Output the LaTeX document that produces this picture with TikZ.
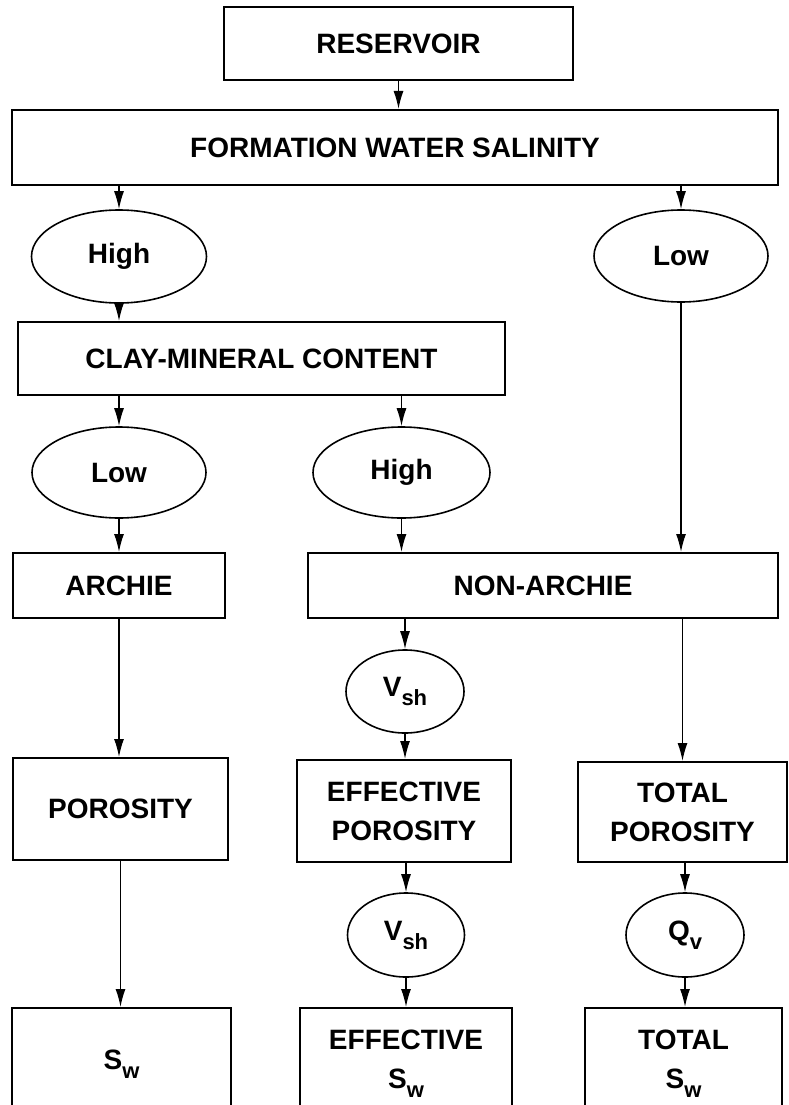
\documentclass[tikz,border=0pt]{standalone}
\usepackage{fontspec}
\setmainfont{Liberation Sans}
\usetikzlibrary{arrows.meta,shapes.geometric}
\newcommand{\diaglbl}{\bfseries\fontsize{28}{39}\selectfont}
\newcommand{\dsub}[1]{\raisebox{-0.32em}{\fontsize{22}{22}\selectfont #1}}
\begin{document}
\begin{tikzpicture}[x=1pt,y=-1pt,
  box/.style={draw, line width=2pt, rectangle, inner sep=0pt, align=center, font=\diaglbl},
  oval/.style={draw, line width=1.6pt, ellipse, inner sep=0pt, font=\diaglbl},
  conn/.style={line width=1.4pt, -{Latex[length=18pt,width=10pt]}}]
\useasboundingbox (0,0) rectangle (789,1105);
\clip (0,0) rectangle (789,1105);
\fill[white] (0,0) rectangle (789,1105);

\node[box, minimum width=349pt, minimum height=73pt] (res) at (398.5,43.5) {RESERVOIR};
\node[box, minimum width=766pt, minimum height=75pt] (fws) at (395,147.5) {FORMATION WATER SALINITY};
\node[oval, minimum width=175pt, minimum height=93pt] (high1) at (119,256.5) {High};
\node[oval, minimum width=174pt, minimum height=92pt] (low1) at (681,256) {Low};
\node[box, minimum width=487pt, minimum height=73pt] (clay) at (261.5,358.5) {CLAY-MINERAL CONTENT};
\node[oval, minimum width=174pt, minimum height=91pt] (low2) at (119,472.5) {Low};
\node[oval, minimum width=177pt, minimum height=91pt] (high2) at (401.5,472.5) {High};
\node[box, minimum width=212pt, minimum height=65pt] (archie) at (119,585.5) {ARCHIE};
\node[box, minimum width=470pt, minimum height=65pt] (nonarchie) at (543,585.5) {NON-ARCHIE};
\node[oval, minimum width=118pt, minimum height=83pt] (vsh1) at (405,691.5) {V\dsub{sh}};
\node[box, minimum width=215pt, minimum height=102pt] (por) at (120.5,809) {POROSITY};
\node[box, minimum width=214pt, minimum height=102pt] (effpor) at (404,811) {EFFECTIVE\\POROSITY};
\node[box, minimum width=209pt, minimum height=100pt] (totpor) at (682.5,812) {TOTAL\\POROSITY};
\node[oval, minimum width=117pt, minimum height=84pt] (vsh2) at (406,935) {V\dsub{sh}};
\node[oval, minimum width=118pt, minimum height=84pt] (qv) at (685,935) {Q\dsub{v}};
\node[box, minimum width=219pt, minimum height=112pt] (sw) at (121.5,1064) {S\dsub{w}};
\node[box, minimum width=212pt, minimum height=112pt] (effsw) at (406,1064) {EFFECTIVE\\S\dsub{w}};
\node[box, minimum width=197pt, minimum height=112pt] (totsw) at (683.5,1064) {TOTAL\\S\dsub{w}};

\draw[conn] (res.south) -- (res.south |- fws.north);
\draw[conn] (high1 |- fws.south) -- (high1.north);
\draw[conn] (low1 |- fws.south) -- (low1.north);
\draw[conn] (high1.south) -- (high1.south |- clay.north);
\draw[conn] (low2 |- clay.south) -- (low2.north);
\draw[conn] (high2 |- clay.south) -- (high2.north);
\draw[conn] (low2.south) -- (low2.south |- archie.north);
\draw[conn] (high2.south) -- (high2.south |- nonarchie.north);
\draw[conn] (low1.south) -- (low1.south |- nonarchie.north);
\draw[conn] (vsh1 |- nonarchie.south) -- (vsh1.north);
\draw[conn] (archie.south) -- (archie.south |- por.north);
\draw[conn] (vsh1.south) -- (vsh1.south |- effpor.north);
\draw[conn] (totpor |- nonarchie.south) -- (totpor.north);
\draw[conn] (vsh2 |- effpor.south) -- (vsh2.north);
\draw[conn] (qv |- totpor.south) -- (qv.north);
\draw[conn] (por.south) -- (por.south |- sw.north);
\draw[conn] (vsh2.south) -- (vsh2.south |- effsw.north);
\draw[conn] (qv.south) -- (qv.south |- totsw.north);
\end{tikzpicture}
\end{document}
